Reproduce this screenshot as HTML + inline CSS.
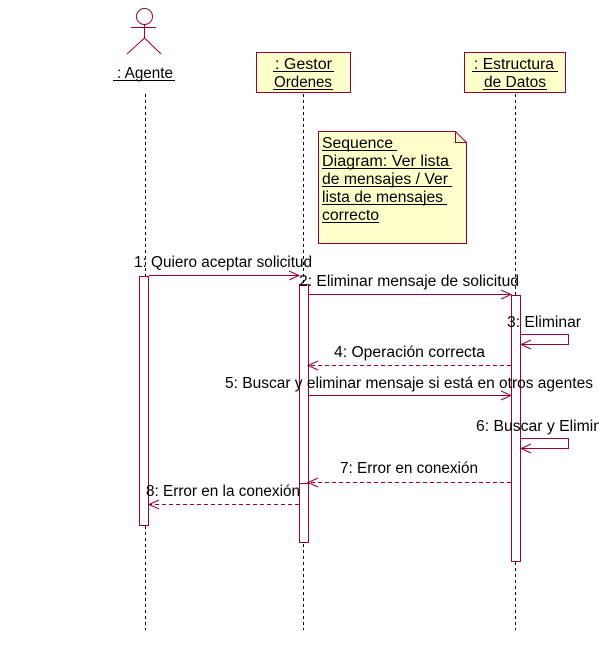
<!DOCTYPE html>
<html><head><meta charset="utf-8"><style>
html,body{margin:0;padding:0;background:#fff;width:599px;height:658px;overflow:hidden}
svg{display:block}
text{font-family:"Liberation Sans",sans-serif;font-size:15.5px;fill:#000}
</style></head><body>
<svg width="599" height="658" viewBox="0 0 599 658" xmlns="http://www.w3.org/2000/svg">
<g stroke="#000" stroke-dasharray="3,3" stroke-width="1">
<line x1="145.5" y1="94" x2="145.5" y2="630"/>
<line x1="303.5" y1="94" x2="303.5" y2="630"/>
<line x1="515.5" y1="94" x2="515.5" y2="630"/>
</g>
<g stroke="#990033" fill="none" stroke-width="1">
<circle cx="144.5" cy="16.5" r="8"/>
<line x1="131" y1="27.5" x2="156" y2="27.5"/>
<line x1="144.5" y1="24" x2="144.5" y2="38"/>
<line x1="144.5" y1="38" x2="127" y2="54"/>
<line x1="144.5" y1="38" x2="161" y2="54"/>
</g>
<text x="117" y="78" textLength="56" lengthAdjust="spacingAndGlyphs">: Agente</text>
<line x1="113" y1="80.5" x2="175" y2="80.5" stroke="#000"/>
<rect x="256.5" y="52.5" width="94" height="40" fill="#ffffcc" stroke="#990033"/>
<text x="275" y="69" textLength="57" lengthAdjust="spacingAndGlyphs">: Gestor</text>
<line x1="273" y1="71.5" x2="334" y2="71.5" stroke="#000"/>
<text x="274" y="87" textLength="58" lengthAdjust="spacingAndGlyphs">Ordenes</text>
<line x1="273" y1="89.5" x2="333" y2="89.5" stroke="#000"/>
<rect x="464.5" y="52.5" width="101" height="40" fill="#ffffcc" stroke="#990033"/>
<text x="474" y="69" textLength="80" lengthAdjust="spacingAndGlyphs">: Estructura</text>
<line x1="472" y1="71.5" x2="558" y2="71.5" stroke="#000"/>
<text x="484" y="87" textLength="62" lengthAdjust="spacingAndGlyphs">de Datos</text>
<line x1="483" y1="89.5" x2="547" y2="89.5" stroke="#000"/>
<path d="M318.5 131.5 H455.5 L466.5 142.5 V243.5 H318.5 Z" fill="#ffffcc" stroke="#990033"/>
<path d="M455.5 131.5 V142.5 H466.5" fill="none" stroke="#990033"/>
<g>
<text x="322" y="148" textLength="71" lengthAdjust="spacingAndGlyphs">Sequence</text><line x1="322" y1="150.5" x2="397" y2="150.5" stroke="#000"/>
<text x="322" y="166" textLength="127" lengthAdjust="spacingAndGlyphs">Diagram: Ver lista</text><line x1="322" y1="168.5" x2="452" y2="168.5" stroke="#000"/>
<text x="322" y="184" textLength="126" lengthAdjust="spacingAndGlyphs">de mensajes / Ver</text><line x1="322" y1="186.5" x2="452" y2="186.5" stroke="#000"/>
<text x="322" y="202" textLength="121" lengthAdjust="spacingAndGlyphs">lista de mensajes</text><line x1="322" y1="204.5" x2="447" y2="204.5" stroke="#000"/>
<text x="322" y="220" textLength="57" lengthAdjust="spacingAndGlyphs">correcto</text><line x1="322" y1="222.5" x2="379" y2="222.5" stroke="#000"/>
</g>
<g fill="#fff" stroke="#990033">
<rect x="139.5" y="276.5" width="9" height="249"/>
<rect x="299.5" y="284.5" width="9" height="258"/>
<rect x="511.5" y="295.5" width="9" height="266"/>
<line x1="299.5" y1="483.5" x2="308.5" y2="483.5"/>
</g>
<g stroke="#990033" fill="none" stroke-width="1">
<line x1="149" y1="275.5" x2="299" y2="275.5"/><path d="M289 271 L299 275.5 L289 280"/>
<line x1="308" y1="294.5" x2="511" y2="294.5"/><path d="M501 290 L511 294.5 L501 299"/>
<path d="M521 334.5 H568.5 V344.5 H521"/><path d="M531 340 L521 344.5 L531 349"/>
<line x1="511" y1="365.5" x2="308" y2="365.5" stroke-dasharray="4,3"/><path d="M318 361 L308 365.5 L318 370"/>
<line x1="308" y1="395.5" x2="511" y2="395.5"/><path d="M501 391 L511 395.5 L501 400"/>
<path d="M521 438.5 H568.5 V448.5 H521"/><path d="M531 444 L521 448.5 L531 453"/>
<line x1="511" y1="482.5" x2="308" y2="482.5" stroke-dasharray="4,3"/><path d="M318 478 L308 482.5 L318 487"/>
<line x1="299" y1="504.5" x2="149" y2="504.5" stroke-dasharray="4,3"/><path d="M159 500 L149 504.5 L159 509"/>
</g>
<text x="134" y="267" textLength="178" lengthAdjust="spacingAndGlyphs">1: Quiero aceptar solicitud</text>
<text x="299" y="286" textLength="220" lengthAdjust="spacingAndGlyphs">2: Eliminar mensaje de solicitud</text>
<text x="507" y="327" textLength="74" lengthAdjust="spacingAndGlyphs">3: Eliminar</text>
<text x="334" y="357" textLength="151" lengthAdjust="spacingAndGlyphs">4: Operación correcta</text>
<text x="225" y="388" textLength="368" lengthAdjust="spacingAndGlyphs">5: Buscar y eliminar mensaje si está en otros agentes</text>
<text x="476" y="431" textLength="140" lengthAdjust="spacingAndGlyphs">6: Buscar y Eliminar</text>
<text x="340" y="473" textLength="138" lengthAdjust="spacingAndGlyphs">7: Error en conexión</text>
<text x="146" y="496" textLength="154" lengthAdjust="spacingAndGlyphs">8: Error en la conexión</text>
</svg>
</body></html>
